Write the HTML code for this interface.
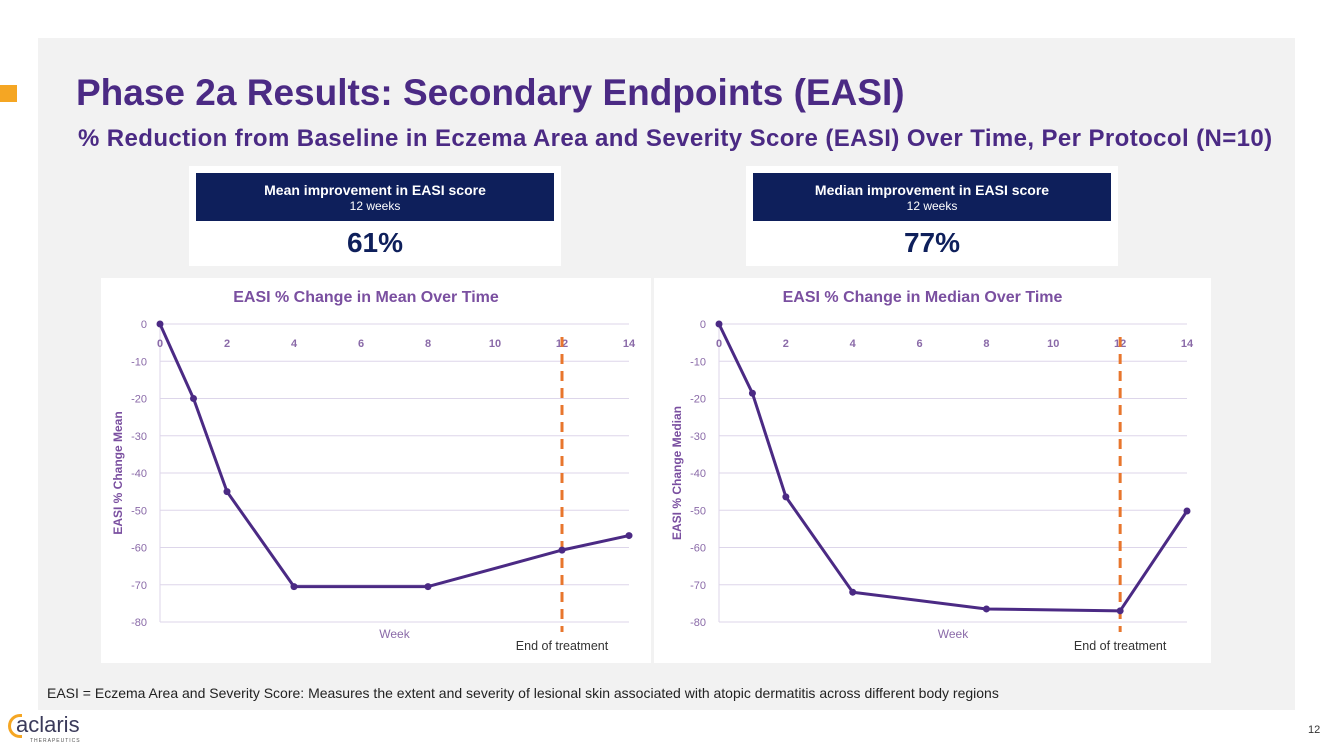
<!DOCTYPE html>
<html><head><meta charset="utf-8">
<style>
body{margin:0;width:1333px;height:749px;background:#fff;font-family:"Liberation Sans",sans-serif;overflow:hidden;position:relative}
.abs{position:absolute}
</style></head>
<body>
<div class="abs" style="left:38px;top:38px;width:1257px;height:672px;background:#f2f2f2"></div>
<div class="abs" style="left:0;top:85px;width:17px;height:17px;background:#f5a623"></div>
<div class="abs" style="left:76px;top:72px;font-size:37px;font-weight:bold;color:#4b2a84;letter-spacing:0px">Phase 2a Results: Secondary Endpoints (EASI)</div>
<div class="abs" style="left:78px;top:125px;font-size:24px;font-weight:bold;color:#4b2a84;letter-spacing:0.4px;white-space:nowrap">% Reduction from Baseline in Eczema Area and Severity Score (EASI) Over Time, Per Protocol (N=10)</div>

<div class="abs" style="left:189px;top:166px;width:372px;height:100px;background:#fff">
 <div style="position:absolute;left:7px;top:7px;width:358px;height:48px;background:#0e1f5b;color:#fff;text-align:center">
  <div style="font-size:14px;font-weight:bold;margin-top:9px">Mean improvement in EASI score</div>
  <div style="font-size:12px;margin-top:1px">12 weeks</div>
 </div>
 <div style="position:absolute;top:61px;width:100%;text-align:center;font-size:28px;font-weight:bold;color:#0e1f5b">61%</div>
</div>
<div class="abs" style="left:746px;top:166px;width:372px;height:100px;background:#fff">
 <div style="position:absolute;left:7px;top:7px;width:358px;height:48px;background:#0e1f5b;color:#fff;text-align:center">
  <div style="font-size:14px;font-weight:bold;margin-top:9px">Median improvement in EASI score</div>
  <div style="font-size:12px;margin-top:1px">12 weeks</div>
 </div>
 <div style="position:absolute;top:61px;width:100%;text-align:center;font-size:28px;font-weight:bold;color:#0e1f5b">77%</div>
</div>

<svg id="charts" class="abs" style="left:0;top:0" width="1333" height="749"></svg>

<div class="abs" style="left:47px;top:685px;font-size:14px;color:#222;white-space:nowrap">EASI = Eczema Area and Severity Score: Measures the extent and severity of lesional skin associated with atopic dermatitis across different body regions</div>
<div class="abs" style="left:8px;top:714px">
 <div style="position:absolute;left:0;top:0;width:14px;height:24px;border:3px solid #f5a623;border-right:none;border-radius:14px 0 0 14px;box-sizing:border-box"></div>
 <div style="position:absolute;left:8px;top:-2px;font-size:22px;color:#3a3a5a">aclaris</div>
 <div style="position:absolute;left:22px;top:24px;font-size:5px;color:#555;letter-spacing:1px">THERAPEUTICS</div>
</div>
<div class="abs" style="left:1308px;top:724px;font-size:11px;color:#333">12</div>

<script>
const weeks=[0,1,2,4,8,12,14];
const meanValues=[0,-20,-45,-70.5,-70.5,-60.7,-56.8];
const medianValues=[0,-18.6,-46.4,-72,-76.5,-77,-50.2];
const xTicks=[0,2,4,6,8,10,12,14];
const yTicks=[0,-10,-20,-30,-40,-50,-60,-70,-80];
const endWeek=12;

const NS="http://www.w3.org/2000/svg";
const svg=document.getElementById('charts');
function mk(tag,attrs,parent,text){const e=document.createElementNS(NS,tag);for(const k in attrs)e.setAttribute(k,attrs[k]);if(text!==undefined)e.textContent=text;(parent||svg).appendChild(e);return e;}

function drawChart(cfg){
 const g=mk('g',{});
 
 
 const bg=mk('rect',{x:cfg.px,y:278,width:cfg.pw,height:385,fill:'#fff'},g);
 
 
 const x0=cfg.x0,x1=cfg.x1,y0=324,y1=622;
 const X=w=>x0+(w-0)/(14-0)*(x1-x0);
 const Y=v=>y0+(0-v)/(0-(-80))*(y1-y0);
 const t=mk('text',{x:cfg.px+cfg.pw/2-10,y:302,'text-anchor':'middle','font-size':16,'font-weight':'bold',fill:'#7a4fa0'},g,cfg.title);
 
 
 yTicks.forEach(v=>{
  const l=mk('line',{x1:x0,x2:x1,y1:Y(v),y2:Y(v),stroke:'#ddd6ea','stroke-width':1},g);
  
  
  const tl=mk('text',{x:x0-13,y:Y(v)+4,'text-anchor':'end','font-size':11,fill:'#8a6aa8'},g,String(v));
  
  
 });
 const ax=mk('line',{x1:x0,x2:x0,y1:y0,y2:y1,stroke:'#ddd6ea'},g);
 
 
 xTicks.forEach(w=>{
  const tl=mk('text',{x:X(w),y:347,'text-anchor':'middle','font-size':11,'font-weight':'bold',fill:'#8a6aa8'},g,String(w));
  
  
 });
 const yt=mk('text',{transform:`translate(${x0-38},${(y0+y1)/2}) rotate(-90)`,'text-anchor':'middle','font-size':12,'font-weight':'bold',fill:'#7a4fa0'},g,cfg.ylabel);
 
 
 const xt=mk('text',{x:(x0+x1)/2,y:638,'text-anchor':'middle','font-size':12,fill:'#8a6aa8'},g,'Week');
 
 
 const el=mk('line',{x1:X(endWeek),x2:X(endWeek),y1:337,y2:632,stroke:'#e8762d','stroke-width':3,'stroke-dasharray':'10,7'},g);
 
 
 const et=mk('text',{x:X(endWeek),y:650,'text-anchor':'middle','font-size':12.5,fill:'#333'},g,'End of treatment');
 
 
 const pts=weeks.map((w,i)=>X(w)+','+Y(cfg.values[i])).join(' ');
 const pl=mk('polyline',{points:pts,fill:'none',stroke:'#4b2a84','stroke-width':3,'stroke-linejoin':'round'},g);
 
 
 weeks.forEach((w,i)=>{
  const c=mk('circle',{cx:X(w),cy:Y(cfg.values[i]),r:3.5,fill:'#4b2a84'},g);
  
  
 });
}
drawChart({name:'mean-chart',px:101,pw:550,x0:160,x1:629,values:meanValues,title:'EASI % Change in Mean Over Time',ylabel:'EASI % Change Mean'});
drawChart({name:'median-chart',px:654,pw:557,x0:719,x1:1187,values:medianValues,title:'EASI % Change in Median Over Time',ylabel:'EASI % Change Median'});
</script>
</body></html>
